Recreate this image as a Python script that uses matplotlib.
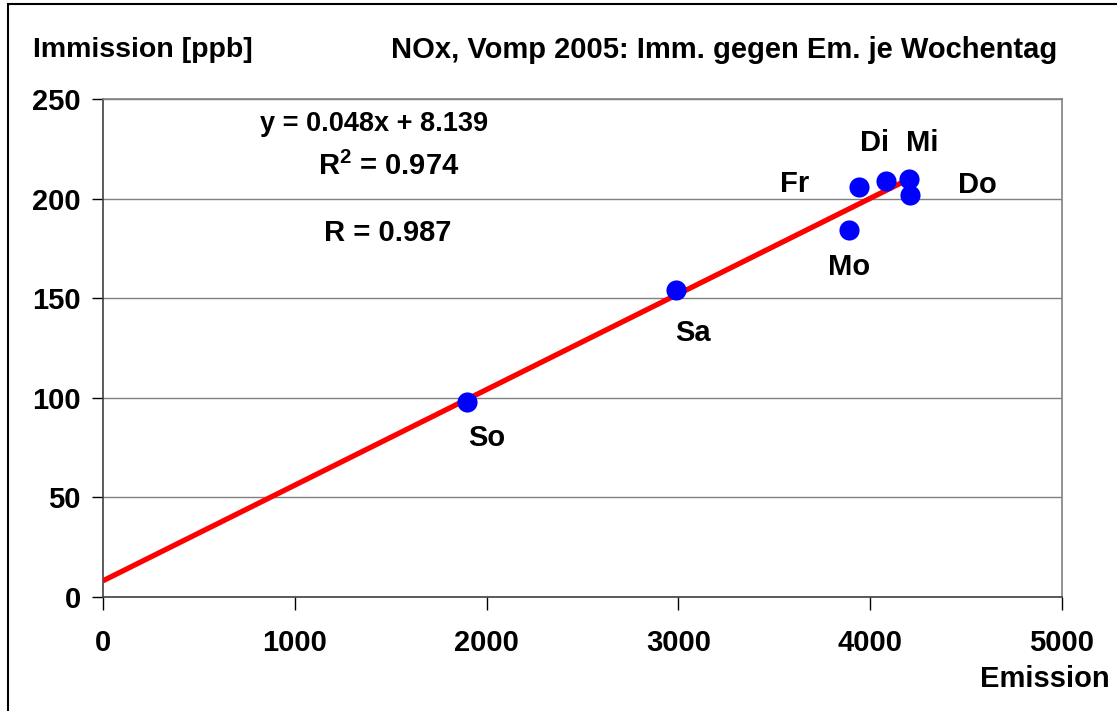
import matplotlib
matplotlib.use("Agg")
import matplotlib.pyplot as plt
from matplotlib.patches import Rectangle

# Data
days = ["So", "Sa", "Mo", "Fr", "Di", "Mi", "Do"]
emission = [1900, 2990, 3890, 3940, 4080, 4200, 4210]
immission = [98, 154, 184, 206, 209, 210, 202]
slope = 0.048
intercept = 8.139
r2 = 0.974
r = 0.987
xticks = [0, 1000, 2000, 3000, 4000, 5000]
yticks = [0, 50, 100, 150, 200, 250]

# label offsets in points (layout)
label_offsets = {
    "So": (14, -26), "Sa": (12, -31), "Mo": (0, -26), "Fr": (-46, 2),
    "Di": (-8, 27), "Mi": (10, 26), "Do": (48, 7),
}

FS = 21
plt.rcParams['font.family'] = ['Liberation Sans', 'DejaVu Sans']
plt.rcParams['font.weight'] = 'bold'
plt.rcParams['mathtext.fontset'] = 'custom'
plt.rcParams['mathtext.bf'] = 'Liberation Sans:bold'
plt.rcParams['mathtext.rm'] = 'Liberation Sans:bold'

fig = plt.figure(figsize=(11.17, 7.11), dpi=100)
ax = fig.add_axes([103/1117, 1 - 597/711, (1062 - 103)/1117, (597 - 99)/711])

ax.set_xlim(0, 5000)
ax.set_ylim(0, 250)
ax.set_xticks(xticks)
ax.set_yticks(yticks)
ax.set_xticklabels([str(v) for v in xticks], fontsize=FS, fontweight='bold')
ax.set_yticklabels([str(v) for v in yticks], fontsize=FS, fontweight='bold')
ax.tick_params(axis='x', direction='out', length=9, width=1, pad=14, colors='black')
ax.tick_params(axis='y', direction='out', length=8, width=1, pad=8, colors='black')

ax.grid(axis='y', color='#808080', linewidth=1)
ax.set_axisbelow(True)
for s in ['top', 'right']:
    ax.spines[s].set_color('#808080')
    ax.spines[s].set_linewidth(1.2)
for s in ['left', 'bottom']:
    ax.spines[s].set_color('#404040')
    ax.spines[s].set_linewidth(1.2)

# trend line
x0, x1 = 0, max(emission)
ax.plot([x0, x1], [slope * x0 + intercept, slope * x1 + intercept],
        color='#ff0000', linewidth=3.8, solid_capstyle='butt', zorder=3)

ax.plot(emission, immission, 'o', color='#0000ff', markersize=14.5,
        markeredgewidth=0, zorder=4)

for d, xv, yv in zip(days, emission, immission):
    dx, dy = label_offsets[d]
    ax.annotate(d, (xv, yv), xytext=(dx, dy), textcoords='offset points',
                ha='center', va='center', fontsize=FS, fontweight='bold', zorder=5)

ax.text(0.283, 0.949, f"y = {slope:.3f}x + {intercept:.3f}", transform=ax.transAxes,
        ha='center', va='center', fontsize=19.5, fontweight='bold')
ax.text(0.298, 0.864, f"R$^{{\\mathbf{{2}}}}$ = {r2:.3f}", transform=ax.transAxes,
        ha='center', va='center', fontsize=FS, fontweight='bold')
ax.text(0.297, 0.730, f"R = {r:.3f}", transform=ax.transAxes,
        ha='center', va='center', fontsize=FS, fontweight='bold')

fig.text(33/1117, 1 - 50/711, "Immission [ppb]", ha='left', va='center',
         fontsize=FS - 0.5, fontweight='bold')
fig.text(1057/1117, 1 - 50/711, "NOx, Vomp 2005: Imm. gegen Em. je Wochentag",
         ha='right', va='center', fontsize=FS, fontweight='bold')
fig.text(1110/1117, 1 - 679/711, "Emission", ha='right', va='center',
         fontsize=FS, fontweight='bold')

fig.patches.append(Rectangle((8/1117, -0.1), 1.2, 1 - 4/711 + 0.1,
                             transform=fig.transFigure, fill=False,
                             edgecolor='black', linewidth=1.5))

fig.savefig("out.png", dpi=100)
